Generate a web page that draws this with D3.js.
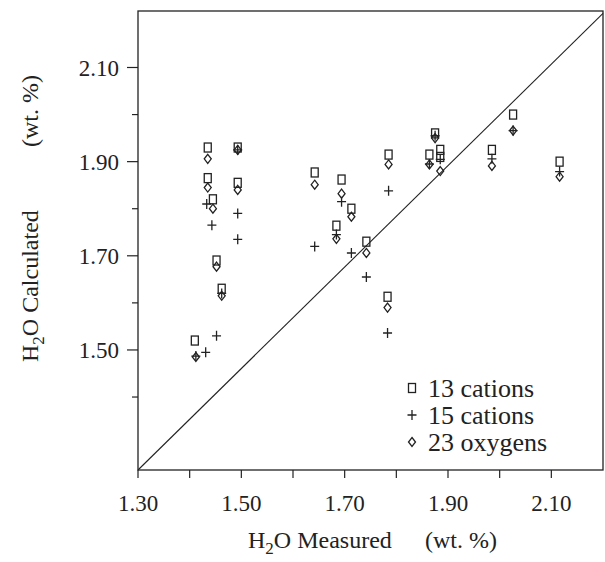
<!DOCTYPE html>
<html>
<head>
<meta charset="utf-8">
<script src="https://cdn.jsdelivr.net/npm/d3@7.9.0/dist/d3.min.js"></script>
<style>
  html, body { margin: 0; padding: 0; background: #fff; }
  svg text { font-family: "Liberation Serif", "Times New Roman", serif; fill: #222; }
</style>
</head>
<body>
<svg id="chart" width="605" height="562"></svg>
<script>
// 13 cations (squares)
const cat13X = [1.435, 1.435, 1.445, 1.493, 1.493, 1.452, 1.462, 1.410, 1.642, 1.694, 1.713,
                1.684, 1.785, 1.742, 1.783, 1.875, 1.864, 1.885, 1.885, 2.026, 1.985, 2.116];
const cat13Y = [1.930, 1.865, 1.820, 1.930, 1.855, 1.690, 1.630, 1.520, 1.877, 1.862, 1.800,
                1.764, 1.915, 1.730, 1.613, 1.960, 1.915, 1.925, 1.910, 2.000, 1.925, 1.900];

// 15 cations (plus)
const cat15X = [1.433, 1.443, 1.493, 1.493, 1.493, 1.462, 1.452, 1.431, 1.412, 1.694, 1.684,
                1.642, 1.785, 1.713, 1.742, 1.783, 1.875, 1.864, 1.885, 2.026, 1.985, 2.116];
const cat15Y = [1.810, 1.765, 1.925, 1.790, 1.735, 1.620, 1.530, 1.495, 1.487, 1.815, 1.745,
                1.720, 1.838, 1.706, 1.655, 1.536, 1.955, 1.895, 1.905, 1.966, 1.906, 1.879];

// 23 oxygens (diamonds)
const oxy23X = [1.435, 1.435, 1.445, 1.493, 1.493, 1.452, 1.462, 1.412, 1.642, 1.694, 1.713,
                1.684, 1.785, 1.742, 1.783, 1.875, 1.864, 1.885, 2.026, 1.985, 2.116];
const oxy23Y = [1.906, 1.845, 1.800, 1.925, 1.840, 1.677, 1.615, 1.485, 1.851, 1.832, 1.783,
                1.736, 1.894, 1.706, 1.590, 1.950, 1.894, 1.880, 1.966, 1.891, 1.868];

const xTicks = [1.30, 1.50, 1.70, 1.90, 2.10];
const xMinor = [1.40, 1.60, 1.80, 2.00];
const yTicks = [1.50, 1.70, 1.90, 2.10];
const yMinor = [1.40, 1.60, 1.80, 2.00];

// reference line, as drawn in the figure
const refX = [1.30, 2.20];
const refY = [1.245, 2.215];

const seriesNames = ['13 cations', '15 cations', '23 oxygens'];

const svg = d3.select('#chart');
const ink = '#222';

const x = d3.scaleLinear().domain([1.30, 2.20]).range([138, 603]);
const y = d3.scaleLinear().domain([1.245, 2.22]).range([470, 11]);

// frame
svg.append('rect')
  .attr('x', x(1.30)).attr('y', y(2.22))
  .attr('width', x(2.20) - x(1.30)).attr('height', y(1.245) - y(2.22))
  .attr('fill', 'none').attr('stroke', ink).attr('stroke-width', 1.3);

// x axis
const xAxis = svg.append('g').attr('transform', `translate(0,${y(1.245)})`);
xAxis.selectAll('line')
  .data(xTicks.concat(xMinor))
  .join('line')
  .attr('x1', d => x(d)).attr('x2', d => x(d))
  .attr('y1', 0).attr('y2', 8)
  .attr('stroke', ink).attr('stroke-width', 1.2);
xAxis.selectAll('text')
  .data(xTicks)
  .join('text')
  .attr('x', d => x(d)).attr('y', 41)
  .attr('text-anchor', 'middle')
  .attr('font-size', 23)
  .text(d => d.toFixed(2));

// y axis
const yAxis = svg.append('g').attr('transform', `translate(${x(1.30)},0)`);
yAxis.selectAll('line.major')
  .data(yTicks)
  .join('line')
  .attr('class', 'major')
  .attr('x1', -11).attr('x2', 0)
  .attr('y1', d => y(d)).attr('y2', d => y(d))
  .attr('stroke', ink).attr('stroke-width', 1.2);
yAxis.selectAll('line.minor')
  .data(yMinor)
  .join('line')
  .attr('class', 'minor')
  .attr('x1', -6).attr('x2', 0)
  .attr('y1', d => y(d)).attr('y2', d => y(d))
  .attr('stroke', ink).attr('stroke-width', 1.2);
yAxis.selectAll('text')
  .data(yTicks)
  .join('text')
  .attr('x', -19).attr('y', d => y(d))
  .attr('dy', '0.35em')
  .attr('text-anchor', 'end')
  .attr('font-size', 23)
  .text(d => d.toFixed(2));

// reference line
svg.append('line')
  .attr('x1', x(refX[0])).attr('y1', y(refY[0]))
  .attr('x2', x(refX[1])).attr('y2', y(refY[1]))
  .attr('stroke', ink).attr('stroke-width', 1.1);

// symbols
function drawSquare(g, cx, cy) {
  g.append('rect')
    .attr('x', cx - 3.5).attr('y', cy - 4.5)
    .attr('width', 7).attr('height', 9)
    .attr('fill', 'none').attr('stroke', ink).attr('stroke-width', 1.3);
}
function drawPlus(g, cx, cy) {
  g.append('path')
    .attr('d', `M${cx - 4.5},${cy}H${cx + 4.5}M${cx},${cy - 5}V${cy + 5}`)
    .attr('stroke', ink).attr('stroke-width', 1.3).attr('fill', 'none');
}
function drawDiamond(g, cx, cy) {
  g.append('path')
    .attr('d', `M${cx},${cy - 4.5}L${cx + 3.5},${cy}L${cx},${cy + 4.5}L${cx - 3.5},${cy}Z`)
    .attr('stroke', ink).attr('stroke-width', 1.3).attr('fill', 'none');
}

const marks = svg.append('g');
d3.zip(cat13X, cat13Y).forEach(([a, b]) => drawSquare(marks, x(a), y(b)));
d3.zip(oxy23X, oxy23Y).forEach(([a, b]) => drawDiamond(marks, x(a), y(b)));
d3.zip(cat15X, cat15Y).forEach(([a, b]) => drawPlus(marks, x(a), y(b)));

// legend
const legend = svg.append('g').attr('transform', 'translate(412,388)');
const drawers = [drawSquare, drawPlus, drawDiamond];
seriesNames.forEach((name, i) => {
  const row = legend.append('g').attr('transform', `translate(0,${i * 27})`);
  drawers[i](row, 0, 0);
  row.append('text')
    .attr('x', 16).attr('y', 0).attr('dy', '0.35em')
    .attr('font-size', 26)
    .text(name);
});

// axis titles
const xt = svg.append('text').attr('x', 248).attr('y', 548).attr('font-size', 24);
xt.append('tspan').text('H');
xt.append('tspan').attr('font-size', 17).attr('dy', 6).text('2');
xt.append('tspan').attr('dy', -6).text('O Measured');
svg.append('text').attr('x', 425).attr('y', 548).attr('font-size', 24).text('(wt. %)');

const yt = svg.append('g').attr('transform', 'translate(38,0) rotate(-90)');
const ytt = yt.append('text').attr('x', -362).attr('y', 0).attr('font-size', 24);
ytt.append('tspan').text('H');
ytt.append('tspan').attr('font-size', 17).attr('dy', 6).text('2');
ytt.append('tspan').attr('dy', -6).text('O Calculated');
yt.append('text').attr('x', -147).attr('y', 0).attr('font-size', 24).text('(wt. %)');
</script>
</body>
</html>
